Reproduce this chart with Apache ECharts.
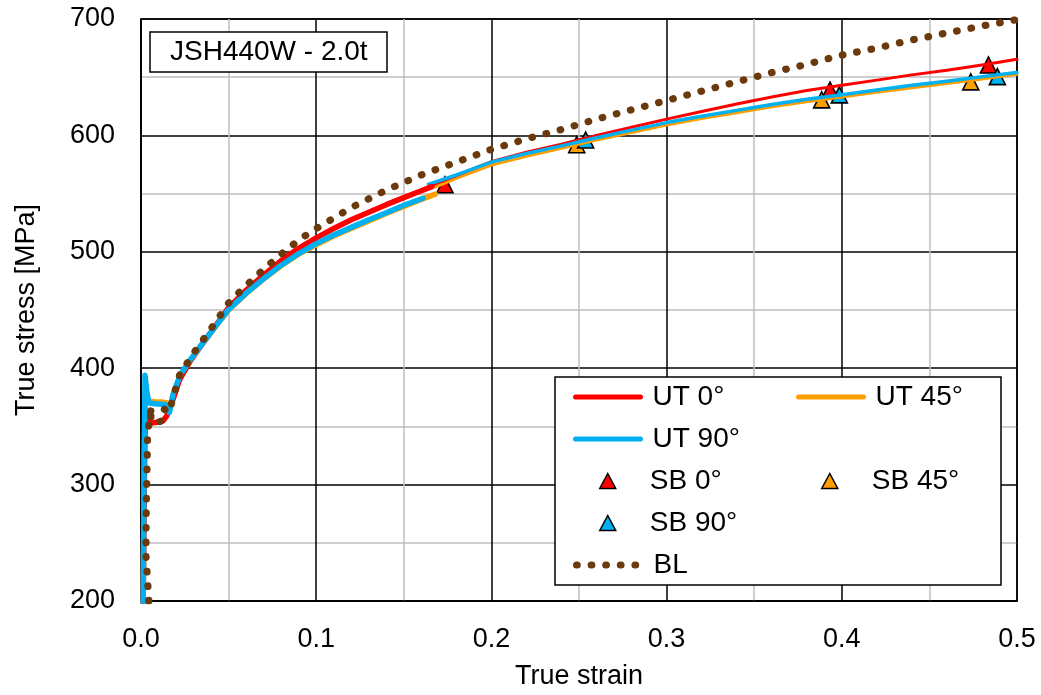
<!DOCTYPE html>
<html>
<head>
<meta charset="utf-8">
<script src="https://cdn.jsdelivr.net/npm/echarts@6/dist/echarts.min.js"></script>
<style>
  html, body { margin: 0; padding: 0; background: #fff; }
  #chart { width: 1041px; height: 695px; }
</style>
</head>
<body>
<div id="chart"></div>
<script>
// Uniaxial tension (UT) curves, measured part up to uniform elongation: [true strain, true stress MPa]
const ut0Measured = [[0.0012,190],[0.0018,290],[0.0022,340],[0.0028,362],[0.004,356],[0.006,353],[0.009,353.5],[0.0127,355],[0.0147,359],[0.018,372],[0.022,390],[0.028,406],[0.035,421],[0.04,431],[0.05,452],[0.06,467],[0.07,480],[0.08,492.5],[0.09,503],[0.1,512],[0.11,520],[0.12,527.5],[0.13,534],[0.14,540.5],[0.15,546.5],[0.16,552.5],[0.166,556]];
const ut45Measured = [[0.0012,190],[0.0018,300],[0.0022,360],[0.0026,377],[0.004,372],[0.008,371],[0.012,371],[0.015,370],[0.0165,366],[0.018,376],[0.022,391],[0.028,406],[0.035,421],[0.04,431],[0.05,450],[0.06,464],[0.07,476.5],[0.08,488],[0.09,498],[0.1,506],[0.11,513.5],[0.12,520],[0.13,526.5],[0.14,533],[0.15,539],[0.16,545],[0.168,549.5]];
const ut90Measured = [[0.0012,190],[0.0016,280],[0.002,350],[0.0023,394],[0.0032,381],[0.0045,370],[0.008,369.5],[0.012,369],[0.0155,368],[0.0162,362],[0.0184,378],[0.0223,394],[0.028,407],[0.035,421],[0.04,431],[0.05,450.5],[0.06,464.5],[0.07,477],[0.08,488.5],[0.09,498.5],[0.1,507],[0.11,514.5],[0.12,521],[0.13,527.5],[0.14,533.5],[0.15,540],[0.161,546]];

// UT curves beyond uniform elongation
const ut0Extended = [[0.166,557],[0.18,565.5],[0.2,577.5],[0.22,585.5],[0.24,592.5],[0.26,600],[0.28,607],[0.3,614],[0.32,620.5],[0.34,627],[0.36,633],[0.38,638.5],[0.4,643],[0.42,647.5],[0.44,652],[0.46,656],[0.48,660.5],[0.5,665.5]];
const ut45Extended = [[0.168,555.5],[0.18,563],[0.2,574.5],[0.22,582],[0.24,589],[0.26,596],[0.28,602.5],[0.3,609],[0.32,614.5],[0.34,619.5],[0.36,624.5],[0.38,629],[0.4,633],[0.42,637],[0.44,641],[0.46,644.5],[0.48,648.5],[0.5,652.5]];
const ut90Extended = [[0.164,558],[0.18,566],[0.2,577],[0.22,584.5],[0.24,591],[0.26,598],[0.28,604.5],[0.3,611],[0.32,616.5],[0.34,621.5],[0.36,626.5],[0.38,631],[0.4,635],[0.42,639],[0.44,643],[0.46,646.5],[0.48,650.5],[0.5,654]];

// Shear-bending (SB) test points
const sb0 = [[0.1735,557.6],[0.3933,639],[0.4837,660.5]];
const sb45 = [[0.2487,592],[0.3885,630.5],[0.4736,646]];
const sb90 = [[0.2538,596],[0.3986,634.8],[0.4888,650.5]];

// BL curve
const blCurve = [[0.0045,200],[0.0028,240],[0.003,280],[0.0035,320],[0.0038,345],[0.006,367],[0.0055,355],[0.009,353],[0.012,355],[0.013,365],[0.016,362],[0.018,373],[0.022,394],[0.03,413],[0.04,434],[0.05,456],[0.06,471],[0.07,485],[0.08,498],[0.09,510],[0.1,520],[0.12,538],[0.14,553],[0.16,566],[0.18,577],[0.2,588],[0.22,597],[0.24,605],[0.26,614],[0.28,622],[0.3,630],[0.32,638],[0.34,646],[0.36,654],[0.38,661],[0.4,669],[0.42,675],[0.44,682],[0.46,688],[0.48,694],[0.5,699.5]];

const FONT = "'Liberation Sans', Arial, sans-serif";
const RED = '#FF0000', ORANGE = '#FF9E00', BLUE = '#00B0F0', BROWN = '#6A3A0D';
const BL_DOTS = { color: BROWN, width: 7.2, type: [0.6, 14], cap: 'round', join: 'round' };

function lineSeries(name, data, color, width) {
  return {
    name, type: 'line', data, showSymbol: false, symbol: 'none', animation: false,
    lineStyle: { color, width, cap: 'round', join: 'round' },
    itemStyle: { color }
  };
}
function markerSeries(name, data, color) {
  return {
    name, type: 'scatter', data, symbol: 'triangle', symbolSize: [16, 16], animation: false,
    itemStyle: { color, borderColor: '#000', borderWidth: 1.6, opacity: 1 }
  };
}
function legendBlock(names, left, top, icon) {
  const isLine = icon === 'line';
  return {
    data: names, left, top, orient: 'vertical', padding: 0,
    itemWidth: isLine ? 65 : 16, itemHeight: isLine ? 14 : 15, itemGap: 12,
    textStyle: { fontSize: 28, lineHeight: 30, color: '#000', fontFamily: FONT,
                 padding: [0, 0, 0, isLine ? 7 : 29] },
    // line entries show only the stroke, no point symbol
    itemStyle: isLine ? { opacity: 0 } : { borderWidth: 1.5, borderColor: '#000' }
  };
}

const chart = echarts.init(document.getElementById('chart'), null, { renderer: 'canvas' });
const axisText = { fontSize: 27, color: '#000', fontFamily: FONT };

chart.setOption({
  backgroundColor: '#fff',
  animation: false,
  textStyle: { fontFamily: FONT },
  title: {
    text: 'JSH440W - 2.0t', left: 150, top: 32,
    padding: [5, 20, 5, 20], borderColor: '#000', borderWidth: 1.5, backgroundColor: '#fff',
    textStyle: { fontSize: 28, fontWeight: 'normal', color: '#000', fontFamily: FONT, lineHeight: 30 }
  },
  grid: { left: 141, top: 19, right: 24, bottom: 93, show: true, borderColor: '#000', borderWidth: 1.5 },
  xAxis: {
    type: 'value', min: 0, max: 0.5, interval: 0.1,
    name: 'True strain', nameLocation: 'middle', nameGap: 62, nameTextStyle: axisText,
    axisLine: { show: true, lineStyle: { color: '#000', width: 1.5 } },
    axisTick: { show: false },
    axisLabel: Object.assign({ margin: 25, formatter: v => v.toFixed(1) }, axisText),
    splitLine: { show: true, lineStyle: { color: '#000', width: 1.5 } },
    minorTick: { show: false, splitNumber: 2 },
    minorSplitLine: { show: true, lineStyle: { color: '#BFBFBF', width: 1.5 } }
  },
  yAxis: {
    type: 'value', min: 200, max: 700, interval: 100,
    name: 'True stress [MPa]', nameLocation: 'middle', nameGap: 101, nameRotate: 90, nameTextStyle: axisText,
    axisLine: { show: true, lineStyle: { color: '#000', width: 1.5 } },
    axisTick: { show: false },
    axisLabel: Object.assign({ margin: 26, padding: [4, 0, 0, 0] }, axisText),
    splitLine: { show: true, lineStyle: { color: '#000', width: 1.5 } },
    minorTick: { show: false, splitNumber: 2 },
    minorSplitLine: { show: true, lineStyle: { color: '#BFBFBF', width: 1.5 } }
  },
  graphic: [{
    type: 'rect', z: 3,
    shape: { x: 555, y: 377, width: 446, height: 208 },
    style: { fill: '#fff', stroke: '#000', lineWidth: 1.5 }
  }],
  legend: [
    Object.assign(legendBlock(['UT 0°', 'UT 90°'], 573, 382, 'line'), { lineStyle: { width: 5, cap: 'round' } }),
    Object.assign(legendBlock(['UT 45°'], 796, 382, 'line'), { lineStyle: { width: 5, cap: 'round' } }),
    legendBlock(['SB 0°', 'SB 90°'], 599, 466, 'triangle'),
    legendBlock(['SB 45°'], 821, 466, 'triangle'),
    Object.assign(legendBlock(['BL'], 573, 550, 'line'), { lineStyle: { width: BL_DOTS.width, cap: 'round', type: BL_DOTS.type } })
  ],
  series: [
    lineSeries('UT 45°', ut45Extended, ORANGE, 3),
    lineSeries('UT 0°', ut0Extended, RED, 3),
    lineSeries('UT 90°', ut90Extended, BLUE, 3.5),
    lineSeries('UT 45°', ut45Measured, ORANGE, 5.5),
    lineSeries('UT 0°', ut0Measured, RED, 5.5),
    lineSeries('UT 90°', ut90Measured, BLUE, 5.5),
    markerSeries('SB 45°', sb45, ORANGE),
    markerSeries('SB 0°', sb0, RED),
    markerSeries('SB 90°', sb90, BLUE),
    {
      name: 'BL', type: 'line', data: blCurve, showSymbol: false, symbol: 'none', animation: false,
      lineStyle: BL_DOTS,
      itemStyle: { color: BROWN }
    }
  ]
});
</script>
</body>
</html>
